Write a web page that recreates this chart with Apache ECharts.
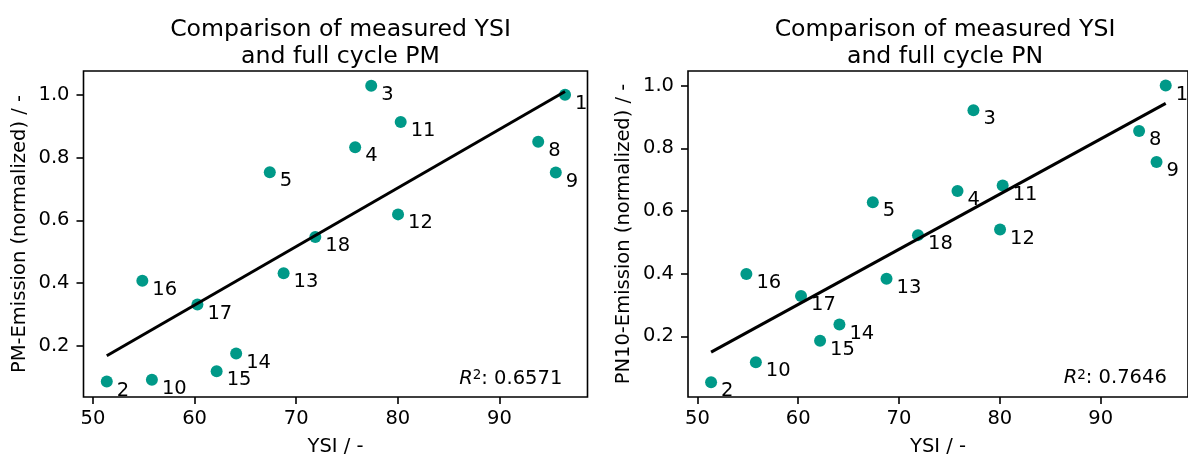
<!DOCTYPE html>
<html>
<head>
<meta charset="utf-8">
<script src="https://cdn.jsdelivr.net/npm/echarts@6/dist/echarts.min.js"></script>
<style>
html,body{margin:0;padding:0;background:#fff;}
#c{width:1188px;height:462px;}
</style>
</head>
<body>
<div id="c"></div>
<script>
// ---- data ----
const ids = ['1','2','3','4','5','8','9','10','11','12','13','14','15','16','17','18'];
const ysi = [96.45, 51.36, 77.38, 75.80, 67.40, 93.81, 95.54, 55.80, 80.28, 80.02, 68.76, 64.09, 62.17, 54.86, 60.28, 71.88];
const pm  = [1.000, 0.087, 1.028, 0.833, 0.753, 0.850, 0.752, 0.093, 0.913, 0.619, 0.432, 0.176, 0.120, 0.408, 0.332, 0.547];
const pn  = [1.000, 0.054, 0.921, 0.664, 0.628, 0.855, 0.756, 0.118, 0.681, 0.541, 0.384, 0.238, 0.186, 0.399, 0.329, 0.523];
const trendPM = [[51.36, 0.169], [96.45, 1.010]];
const trendPN = [[51.36, 0.150], [96.45, 0.943]];
const xTicks = [50, 60, 70, 80, 90];
const yTicks = [0.2, 0.4, 0.6, 0.8, 1.0];
const titles = ['Comparison of measured YSI\nand full cycle PM', 'Comparison of measured YSI\nand full cycle PN'];
const yNames = ['PM-Emission (normalized) / -', 'PN10-Emission (normalized) / -'];
const xName = 'YSI / -';
const r2 = ['0.6571', '0.7646'];

// ---- layout ----
const FONT = 'DejaVu Sans';
const FS = 19.5;
const TEAL = '#009988';
const grids = [
  {left: 83.5, top: 71, width: 504, height: 330.5},
  {left: 688, top: 71, width: 504, height: 330}
];
const xRanges = [[49.07, 98.66], [49.07, 98.66]];
const yRanges = [[0.0378, 1.0753], [0.0069, 1.0463]];

function pts(ys) { return ysi.map((x, i) => ({value: [x, ys[i]], name: ids[i]})); }

const option = {
  animation: false,
  backgroundColor: '#fff',
  textStyle: {fontFamily: FONT},
  title: grids.map((g, i) => ({
    text: titles[i],
    left: g.left + g.width / 2,
    top: 11,
    textAlign: 'center',
    textStyle: {fontFamily: FONT, fontSize: 23.6, fontWeight: 'normal', color: '#000', lineHeight: 27}
  })),
  grid: grids.map(g => Object.assign({show: true, borderColor: '#000', borderWidth: 1.6, backgroundColor: 'transparent'}, g)),
  xAxis: grids.map((g, i) => ({
    type: 'value', gridIndex: i, min: xRanges[i][0], max: xRanges[i][1],
    name: xName, nameLocation: 'middle', nameGap: 40,
    nameTextStyle: {fontFamily: FONT, fontSize: FS, color: '#000'},
    axisLine: {show: false},
    splitLine: {show: false},
    axisTick: {show: true, inside: false, length: 7, customValues: xTicks, lineStyle: {color: '#000', width: 1.6}},
    axisLabel: {show: true, margin: 12, customValues: xTicks, fontFamily: FONT, fontSize: FS, color: '#000', formatter: v => String(v)}
  })),
  yAxis: grids.map((g, i) => ({
    type: 'value', gridIndex: i, min: yRanges[i][0], max: yRanges[i][1],
    name: yNames[i], nameLocation: 'middle', nameGap: 54, nameRotate: 90,
    nameTextStyle: {fontFamily: FONT, fontSize: FS, color: '#000'},
    axisLine: {show: false},
    splitLine: {show: false},
    axisTick: {show: true, inside: false, length: 7, customValues: yTicks, lineStyle: {color: '#000', width: 1.6}},
    axisLabel: {show: true, margin: 14, customValues: yTicks, fontFamily: FONT, fontSize: FS, color: '#000', formatter: v => v.toFixed(1)}
  })),
  series: [
    {type: 'line', xAxisIndex: 0, yAxisIndex: 0, data: trendPM, symbol: 'none', lineStyle: {color: '#000', width: 3}, z: 3},
    {type: 'line', xAxisIndex: 1, yAxisIndex: 1, data: trendPN, symbol: 'none', lineStyle: {color: '#000', width: 3}, z: 3},
    ...[pm, pn].map((ys, i) => ({
      type: 'scatter', xAxisIndex: i, yAxisIndex: i, data: pts(ys), symbolSize: 12,
      itemStyle: {color: TEAL, opacity: 1}, z: 2,
      label: {show: true, formatter: p => p.name, position: [16, 15], align: 'left', verticalAlign: 'middle',
              fontFamily: FONT, fontSize: FS, color: '#000'}
    }))
  ],
  graphic: grids.map((g, i) => ({
    type: 'text',
    x: g.left + g.width * 0.95,
    y: g.top + g.height - 23,
    z: 10,
    style: {
      text: '{r|R}{s|2}{t|: ' + r2[i] + '}',
      textAlign: 'right', textVerticalAlign: 'middle',
      fill: '#000',
      rich: {
        r: {fontFamily: FONT, fontSize: FS, fontStyle: 'italic', fill: '#000', verticalAlign: 'bottom'},
        s: {fontFamily: FONT, fontSize: 13.5, fill: '#000', verticalAlign: 'top'},
        t: {fontFamily: FONT, fontSize: FS, fill: '#000', verticalAlign: 'bottom'}
      }
    }
  }))
};

const chart = echarts.init(document.getElementById('c'), null, {renderer: 'canvas'});
chart.setOption(option);
</script>
</body>
</html>
